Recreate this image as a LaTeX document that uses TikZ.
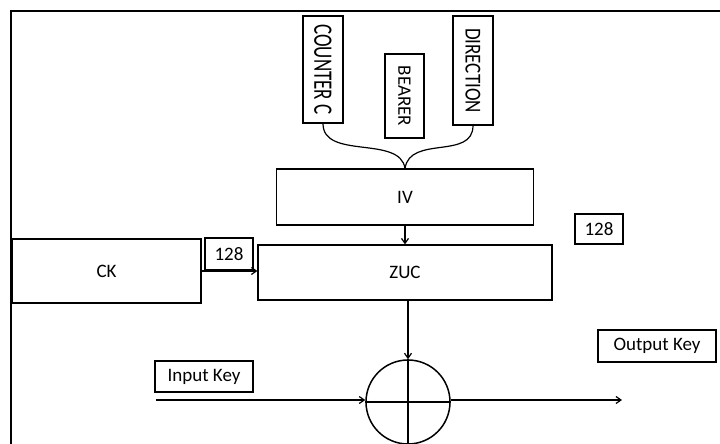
\documentclass[tikz,border=0pt]{standalone}
\usepackage{fontspec}
\setmainfont{Carlito}
\usetikzlibrary{arrows.meta,positioning}

\begin{document}
\begin{tikzpicture}[
    x=1pt, y=-1pt,
    every node/.style={font=\fontsize{19}{22}\selectfont},
    blockbox/.style={rectangle, draw, line width=1.2pt, inner sep=0pt},
    parambox/.style={blockbox, rotate=-90},
    tagbox/.style={rectangle, draw, line width=1.2pt, inner sep=0pt},
    xorbox/.style={circle, draw, line width=1.5pt, minimum size=84pt, inner sep=0pt},
    flow/.style={-{Straight Barb[length=5pt,width=7pt]}, line width=1.2pt}
]
    \useasboundingbox (0,0) rectangle (720,444);
    % outer frame, cut off at right and bottom
    \draw[line width=2.5pt] (11,444) -- (11,11) -- (720,11);

    \node[parambox, minimum width=107pt, minimum height=40pt] (counter) at (323,69.5) {\scalebox{1}[1.4]{COUNTER C}};
    \node[parambox, minimum width=84pt, minimum height=39pt] (bearer) at (404.5,96) {BEARER};
    \node[parambox, minimum width=109pt, minimum height=40pt] (direction) at (473,70.5) {\scalebox{1}[1.2]{DIRECTION}};

    \node[blockbox, minimum width=257pt, minimum height=56pt] (iv) at (405,197) {IV};
    \node[blockbox, minimum width=294pt, minimum height=55pt] (zuc) at (405,272.5) {ZUC};
    \node[blockbox, minimum width=189pt, minimum height=64pt] (ck) at (106.5,271) {CK};

    \node[tagbox, minimum width=48pt, minimum height=32pt] (lenck) at (229,254) {128};
    \node[tagbox, minimum width=48pt, minimum height=30pt] (leniv) at (599,229) {128};

    \node[xorbox] (xor) at (408,402) {};
    \draw[line width=1.5pt] (xor.north) -- (xor.south);
    \draw[line width=1.5pt] (xor.west) -- (xor.east);

    \node[tagbox, minimum width=98pt, minimum height=31pt] (inkey) at (204,376.5) {Input Key};
    \node[tagbox, minimum width=118pt, minimum height=32pt] (outkey) at (657,346) {Output Key};

    \coordinate (instart) at (156,400);
    \coordinate (outend) at (622,400);

    % parameters merge into IV
    \draw[line width=1.2pt] (counter.east) .. controls (323,160) and (400,135) .. (iv.north);
    \draw[line width=1.2pt] (direction.east) .. controls (473,160) and (410,135) .. (iv.north);

    \draw[flow] (iv.south) -- (zuc.north);
    \draw[flow] (ck.east) -- (ck.east -| zuc.west);
    \draw[flow] (xor.north |- zuc.south) -- (xor.north);
    \draw[flow] (instart) -- (instart -| xor.west);
    \draw[flow] (xor.east |- outend) -- (outend);
\end{tikzpicture}
\end{document}
